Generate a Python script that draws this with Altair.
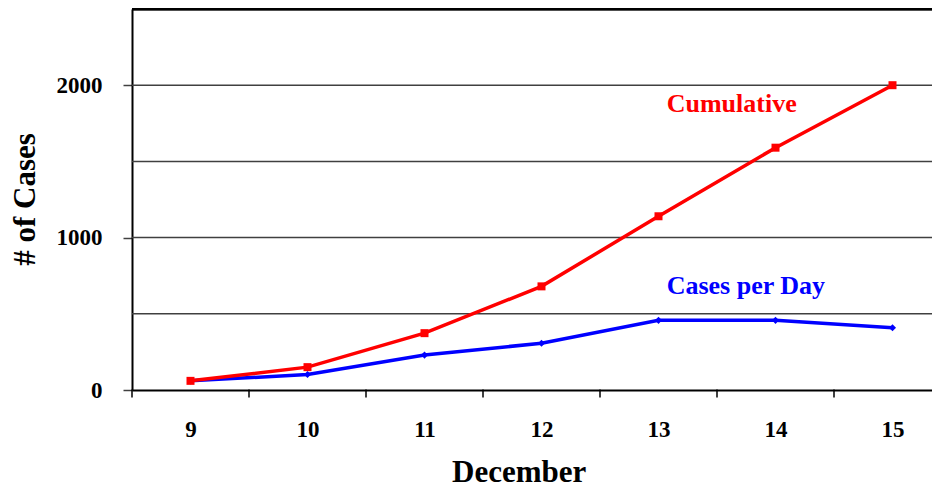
import altair as alt
import pandas as pd

days = [9, 10, 11, 12, 13, 14, 15]
cumulative = [60, 150, 373, 680, 1140, 1590, 2000]
per_day = [60, 102, 229, 307, 457, 457, 409]
y_label_values = [0, 1000, 2000]
grid_values = [500, 1000, 1500, 2000]
x_tick_bounds = [8.5, 9.5, 10.5, 11.5, 12.5, 13.5, 14.5]
annot_text = ["Cumulative", "Cases per Day"]
annot_x = [13.07, 13.07]
annot_y = [1825, 632]
annot_color = ["#ff0000", "#0000ff"]

FONT = "'Liberation Serif', 'Times New Roman', 'DejaVu Serif', serif"
W, H = 800, 381
PX_PER_DAY = 117

xscale = alt.Scale(domain=[8.5, 8.5 + W / PX_PER_DAY], nice=False, zero=False)
yscale = alt.Scale(domain=[0, 2500], nice=False, zero=True)

cum_df = pd.DataFrame({"day": days, "cases": cumulative})
pd_df = pd.DataFrame({"day": days, "cases": per_day})
grid_df = pd.DataFrame({"g": grid_values})
tick_df = pd.DataFrame({"day": x_tick_bounds})
ann_df = pd.DataFrame({"day": annot_x, "cases": annot_y, "text": annot_text, "c": annot_color})

x_axis = alt.Axis(
    values=days, format="d", ticks=False, grid=False, domain=True,
    domainColor="black", domainWidth=2, labelFont=FONT, labelFontWeight="bold",
    labelFontSize=23, labelColor="black", labelPadding=46, labelBaseline="alphabetic",
    labelFlush=False, labelOverlap=False,
    title="December", titleFont=FONT, titleFontWeight="bold", titleFontSize=31,
    titleColor="black", titleX=386.7, titleY=91, titleAlign="center",
    titleBaseline="alphabetic", titleAnchor="start",
)
y_axis = alt.Axis(
    values=y_label_values, format="d", grid=False, ticks=True, tickSize=9,
    tickColor="#404040", tickWidth=1.5, domain=True, domainColor="black",
    domainWidth=2, labelFont=FONT, labelFontWeight="bold", labelFontSize=23,
    labelColor="black", labelPadding=21, labelBaseline="middle",
    labelFlush=False, labelOverlap=False,
    title="# of Cases", titleFont=FONT, titleFontWeight="bold", titleFontSize=31,
    titleColor="black", titleX=-98, titleY=190, titleAngle=270,
    titleAlign="center", titleBaseline="alphabetic",
)

X = alt.X("day:Q", scale=xscale, axis=x_axis)
Y = alt.Y("cases:Q", scale=yscale, axis=y_axis)

grid = alt.Chart(grid_df).mark_rule(color="#404040", strokeWidth=1.5).encode(
    y=alt.Y("g:Q", scale=yscale, axis=y_axis)
)

top = alt.Chart(grid_df).mark_rule(color="black", strokeWidth=2.5).encode(
    y=alt.datum(2500, scale=yscale, axis=y_axis)
)

xticks = alt.Chart(tick_df).mark_rule(color="black", strokeWidth=1.5).encode(
    x=X,
    y=alt.value(380.5),
    y2=alt.value(388.5),
)

blue_line = alt.Chart(pd_df).mark_line(
    color="#0000ff", strokeWidth=3.5,
    point=alt.OverlayMarkDef(shape="diamond", size=50, color="#0000ff", filled=True, opacity=1),
).encode(x=X, y=Y)

red_line = alt.Chart(cum_df).mark_line(
    color="#ff0000", strokeWidth=3.5,
    point=alt.OverlayMarkDef(shape="square", size=64, color="#ff0000", filled=True, opacity=1),
).encode(x=X, y=Y)

labels = alt.Chart(ann_df).mark_text(
    font=FONT, fontWeight="bold", fontSize=26, align="left", baseline="alphabetic"
).encode(
    x=X,
    y=Y,
    text="text:N",
    color=alt.Color("c:N", scale=None, legend=None),
)

chart = alt.layer(grid, top, xticks, blue_line, red_line, labels).properties(
    width=W, height=H,
    autosize=alt.AutoSizeParams(type="none"),
    padding={"left": 124, "top": 1, "right": 0, "bottom": 99},
    background="white",
).configure_view(stroke=None)

chart.save("out.html", embed_options={"renderer": "svg", "actions": False})
